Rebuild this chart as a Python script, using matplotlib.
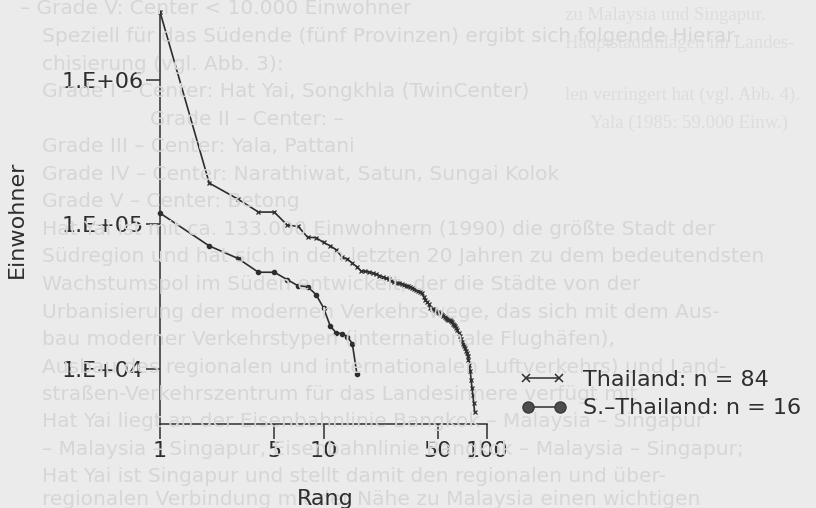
import numpy as np
import matplotlib
matplotlib.use('Agg')
import matplotlib.pyplot as plt
from matplotlib.lines import Line2D
from matplotlib.ticker import NullLocator

# rank-size data
thai_rank = np.arange(1, 85)
thai_pop = [
	3.0e6, 1.94e5, 1.50e5, 1.22e5, 1.22e5, 9.9e4, 9.7e4, 8.15e4, 8.1e4, 7.5e4,
	7.1e4, 6.66e4, 5.92e4, 5.76e4, 5.38e4, 5.09e4, 4.75e4, 4.72e4, 4.68e4, 4.60e4,
	4.53e4, 4.42e4, 4.32e4, 4.23e4, 4.18e4, 4.07e4, 3.99e4, 3.93e4, 3.91e4, 3.89e4,
	3.83e4, 3.77e4, 3.74e4, 3.68e4, 3.62e4, 3.56e4, 3.51e4, 3.45e4, 3.40e4, 3.32e4,
	3.14e4, 2.99e4, 2.91e4, 2.81e4, 2.65e4, 2.61e4, 2.57e4, 2.53e4, 2.49e4, 2.47e4,
	2.43e4, 2.39e4, 2.35e4, 2.32e4, 2.29e4, 2.24e4, 2.19e4, 2.17e4, 2.17e4, 2.15e4,
	2.10e4, 2.05e4, 2.00e4, 1.96e4, 1.91e4, 1.85e4, 1.76e4, 1.68e4, 1.60e4, 1.53e4,
	1.48e4, 1.43e4, 1.39e4, 1.33e4, 1.29e4, 1.22e4, 1.15e4, 1.06e4, 9.6e3, 8.3e3,
	7.3e3, 6.5e3, 5.75e3, 5.0e3]

south_rank = np.arange(1, 17)
south_pop = [1.20e5, 7.1e4, 5.81e4, 4.66e4, 4.66e4, 4.14e4, 3.75e4, 3.70e4,
	3.26e4, 2.64e4, 1.97e4, 1.76e4, 1.75e4, 1.66e4, 1.49e4, 9.2e3]

xticks = [1, 5, 10, 50, 100]
xlabels = ['1', '5', '10', '50', '100']
yticks = [1e4, 1e5, 1e6]
ylabels = ['1.E+04', '1.E+05', '1.E+06']

legend_labels = ['Thailand: n = 84', 'S.\u2013Thailand: n = 16']

# page text showing through the scan
page_dark = [
	(20, 14, '\u2013 Grade V: Center < 10.000 Einwohner'),
	(42, 42, 'Speziell f\u00fcr das S\u00fcdende (f\u00fcnf Provinzen) ergibt sich folgende Hierar-'),
	(42, 70, 'chisierung (vgl. Abb. 3):'),
	(42, 97, 'Grade I \u2013 Center: Hat Yai, Songkhla (TwinCenter)'),
	(150, 125, 'Grade II \u2013 Center: \u2013'),
	(42, 152, 'Grade III \u2013 Center: Yala, Pattani'),
	(42, 180, 'Grade IV \u2013 Center: Narathiwat, Satun, Sungai Kolok'),
	(42, 207, 'Grade V \u2013 Center: Betong'),
	(42, 235, 'Hat Yai ist mit ca. 133.000 Einwohnern (1990) die gr\u00f6\u00dfte Stadt der'),
	(42, 262, 'S\u00fcdregion und hat sich in den letzten 20 Jahren zu dem bedeutendsten'),
	(42, 290, 'Wachstumspol im S\u00fcden entwickelt, der die St\u00e4dte von der'),
	(42, 318, 'Urbanisierung der modernen Verkehrswege, das sich mit dem Aus-'),
	(42, 345, 'bau moderner Verkehrstypen (internationale Flugh\u00e4fen),'),
	(42, 373, 'Ausbau des regionalen und internationalen Luftverkehrs) und Land-'),
	(42, 400, 'stra\u00dfen-Verkehrszentrum f\u00fcr das Landesinnere verf\u00fcgt mit'),
	(42, 427, 'Hat Yai liegt an der Eisenbahnlinie Bangkok \u2013 Malaysia \u2013 Singapur'),
	(42, 455, '\u2013 Malaysia \u2013 Singapur, Eisenbahnlinie Bangkok \u2013 Malaysia \u2013 Singapur;'),
	(42, 482, 'Hat Yai ist Singapur und stellt damit den regionalen und \u00fcber-'),
	(42, 505, 'regionalen Verbindung mit der N\u00e4he zu Malaysia einen wichtigen'),
]
page_light = [
	(565, 20, 'zu Malaysia und Singapur.'),
	(565, 48, 'Hauptstadtanlagen im Landes-'),
	(565, 100, 'len verringert hat (vgl. Abb. 4).'),
	(590, 128, 'Yala (1985: 59.000 Einw.)'),
]

W, H = 816, 508
ink = '#2e2e2e'
fig = plt.figure(figsize=(W / 100, H / 100), dpi=100, facecolor='#ebebeb')

for x, y, s in page_dark:
	fig.text(x / W, 1 - y / H, s, fontsize=14.5, color='#d6d6d6',
		family='DejaVu Sans', va='baseline', zorder=0)
for x, y, s in page_light:
	fig.text(x / W, 1 - y / H, s, fontsize=13.5, color='#dddddd',
		family='Liberation Serif', va='baseline', zorder=0)

ax = fig.add_axes([160 / W, (H - 424) / H, 327 / W, 413 / H])
ax.set_facecolor('none')
ax.set_xscale('log')
ax.set_yscale('log')
ax.set_xlim(1, 100)
ax.set_ylim(10 ** 3.6146, 10 ** 6.4826)

ax.plot(thai_rank, thai_pop, color=ink, lw=1.2, marker='x', ms=3, mew=0.9, clip_on=False)
ax.plot(south_rank, south_pop, color=ink, lw=1.2, marker='o', ms=3, clip_on=False)

for side in ['top', 'right']:
	ax.spines[side].set_visible(False)
for side in ['left', 'bottom']:
	ax.spines[side].set_linewidth(1.1)
	ax.spines[side].set_color(ink)

ax.set_xticks(xticks)
ax.set_xticklabels(xlabels)
ax.set_yticks(yticks)
ax.set_yticklabels(ylabels)
ax.xaxis.set_minor_locator(NullLocator())
ax.yaxis.set_minor_locator(NullLocator())
ax.tick_params(axis='x', direction='out', length=11, width=1.1, pad=1,
	labelsize=16, colors=ink)
ax.tick_params(axis='y', direction='out', length=10, width=1.1, pad=2,
	labelsize=16, colors=ink)

fig.text(17 / W, 1 - 219 / H, 'Einwohner', rotation=90, ha='center', va='center',
	fontsize=16, color=ink)
fig.text(325 / W, 3 / H, 'Rang', ha='center', va='baseline', fontsize=16, color=ink)

# legend drawn by hand to get the marker-line-marker look
fig.add_artist(Line2D([526 / W, 559 / W], [1 - 378 / H] * 2, transform=fig.transFigure,
	color=ink, lw=1.1, marker='x', ms=6, mew=1.1))
fig.add_artist(Line2D([528 / W, 560 / W], [1 - 406.5 / H] * 2, transform=fig.transFigure,
	color=ink, lw=1.1, marker='o', ms=8, mfc='#4d4d4d', mec='#3a3a3a'))
fig.text(583 / W, 1 - 386 / H, legend_labels[0], fontsize=16, color=ink, va='baseline')
fig.text(583 / W, 1 - 414 / H, legend_labels[1], fontsize=16, color=ink, va='baseline')

fig.savefig('out.png', dpi=100, facecolor=fig.get_facecolor())
